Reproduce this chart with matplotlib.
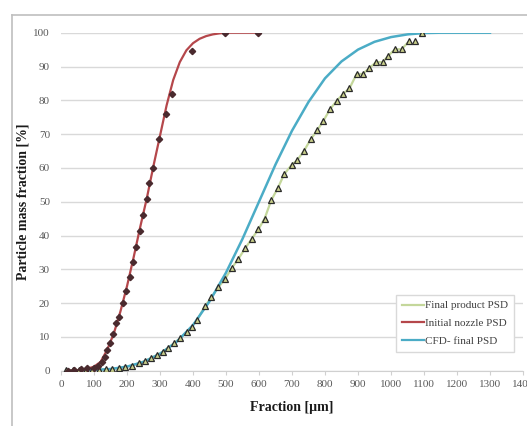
import matplotlib
matplotlib.use("Agg")
import matplotlib.pyplot as plt
from matplotlib.lines import Line2D

plt.rcParams['font.family'] = ['Liberation Serif', 'DejaVu Serif']

# Initial nozzle PSD - measured points
red_x = [20, 40, 60, 80, 100, 113, 123, 133, 138, 148, 158, 167, 176, 189, 196,
         209, 217, 226, 239, 248, 260, 268, 278, 297, 317, 336, 396, 497, 596]
red_y = [0.0, 0.2, 0.4, 0.8, 0.9, 1.5, 2.7, 4.0, 6.1, 8.1, 10.8, 14.0, 16.0, 19.9, 23.6,
         27.8, 32.1, 36.7, 41.4, 46.1, 50.7, 55.5, 59.9, 68.5, 76.0, 82.0, 94.7, 100.0, 100.0]
# Initial nozzle PSD - fitted curve
redc_x = [20, 60, 80, 100, 120, 140, 160, 180, 200, 220, 240, 260, 280, 300, 320,
          340, 360, 380, 400, 420, 440, 460, 480, 500, 600]
redc_y = [0.0, 0.2, 0.6, 1.2, 2.6, 6.2, 11.0, 17.5, 25.0, 33.5, 42.5, 51.0, 60.5, 69.5, 78.5,
          86.0, 91.3, 94.8, 96.9, 98.2, 99.0, 99.5, 99.8, 100.0, 100.0]

# Final product PSD - measured points
grn_x = [15, 35, 55, 75, 95, 115, 135, 155, 175, 195, 215, 235, 255, 272, 290, 308, 325,
         342, 361, 381, 396, 413, 436, 456, 477, 497, 517, 537, 558, 578, 598, 617, 637,
         658, 676, 699, 716, 736, 757, 777, 795, 815, 835, 856, 874, 896, 914, 934, 955,
         975, 992, 1012, 1032, 1055, 1074, 1095]
grn_y = [0.1, 0.2, 0.2, 0.2, 0.3, 0.3, 0.4, 0.5, 0.8, 1.2, 1.5, 2.2, 2.9, 3.7, 4.6, 5.6, 6.8,
         8.1, 9.6, 11.4, 13.0, 15.0, 19.1, 21.7, 24.7, 27.1, 30.3, 33.0, 36.2, 39.0, 41.8, 45.0, 50.4,
         54.2, 58.1, 60.9, 62.3, 65.0, 68.5, 71.2, 73.9, 77.3, 79.8, 82.0, 83.5, 87.8, 87.8, 89.5, 91.3,
         91.3, 93.2, 95.1, 95.1, 97.5, 97.5, 100.0]

# CFD - final PSD
cfd_x = [20, 100, 150, 200, 250, 300, 350, 400, 450, 500, 550, 600, 650, 700, 750, 800,
         850, 900, 950, 1000, 1050, 1100, 1150, 1300]
cfd_y = [0.0, 0.2, 0.5, 1.2, 2.6, 5.0, 8.5, 13.5, 20.5, 29.0, 39.0, 50.0, 61.0, 71.0, 79.5, 86.5,
         91.5, 95.0, 97.3, 98.7, 99.5, 99.9, 100.0, 100.0]

xticks = list(range(0, 1401, 100))
yticks = list(range(0, 101, 10))

W, H = 527, 426
fig = plt.figure(figsize=(W / 100, H / 100), dpi=100)
ax = fig.add_axes([61 / W, 1 - 370.7 / H, (523 - 61) / W, (370.7 - 32.7) / H])

c_green = '#c4d79b'
c_red = '#b5474b'
c_cyan = '#4bacc6'

ax.plot(grn_x[:-2], grn_y[:-2], color=c_green, lw=1.6, zorder=2)
ax.plot(grn_x, grn_y, ls='none', marker='^', ms=4.3, mfc='#c9cf8a', mec='#2a2a2a', mew=0.9, zorder=4)
ax.plot(cfd_x, cfd_y, color=c_cyan, lw=1.8, zorder=3)
ax.plot(redc_x, redc_y, color=c_red, lw=1.6, zorder=3)
ax.plot(red_x, red_y, ls='none', marker='D', ms=3.2, mfc='#4a2a2e', mec='#4a2a2e', zorder=5)

ax.set_xlim(0, 1400)
ax.set_ylim(0, 100)
ax.set_xticks(xticks)
ax.set_yticks(yticks)
ax.yaxis.grid(True, color='#d9d9d9', lw=1.0)
ax.set_axisbelow(True)
for s in ['top', 'right', 'left']:
    ax.spines[s].set_visible(False)
ax.spines['bottom'].set_color('#d0d0d0')
ax.tick_params(axis='x', colors='#d0d0d0', length=3, direction='out', labelcolor='#595959', labelsize=8, pad=4)
ax.tick_params(axis='y', length=0, labelcolor='#595959', labelsize=8, pad=8)

ax.set_xlabel('Fraction [µm]', fontsize=10, fontweight='bold', color='#1a1a1a', labelpad=8)
ax.set_ylabel('Particle mass fraction [%]', fontsize=10, fontweight='bold', color='#1a1a1a', labelpad=3)

handles = [Line2D([], [], color=c_green, lw=1.6),
           Line2D([], [], color=c_red, lw=1.6),
           Line2D([], [], color=c_cyan, lw=1.6)]
leg = ax.legend(handles, ['Final product PSD', 'Initial nozzle PSD', 'CFD- final PSD'],
                loc='lower right', bbox_to_anchor=(0.992, 0.04), fontsize=8,
                handlelength=2.0, handletextpad=0.05, borderpad=0.55, labelspacing=0.7,
                frameon=True, fancybox=False, edgecolor='#d9d9d9', framealpha=1)
for t in leg.get_texts():
    t.set_color('#404040')

# outer chart border (left and top)
fig.add_artist(Line2D([12 / W, 12 / W], [0, 1 - 15 / H], color='#bfbfbf', lw=1.2, transform=fig.transFigure))
fig.add_artist(Line2D([12 / W, 1], [1 - 15 / H, 1 - 15 / H], color='#bfbfbf', lw=1.2, transform=fig.transFigure))

fig.savefig('out.png', dpi=100)
